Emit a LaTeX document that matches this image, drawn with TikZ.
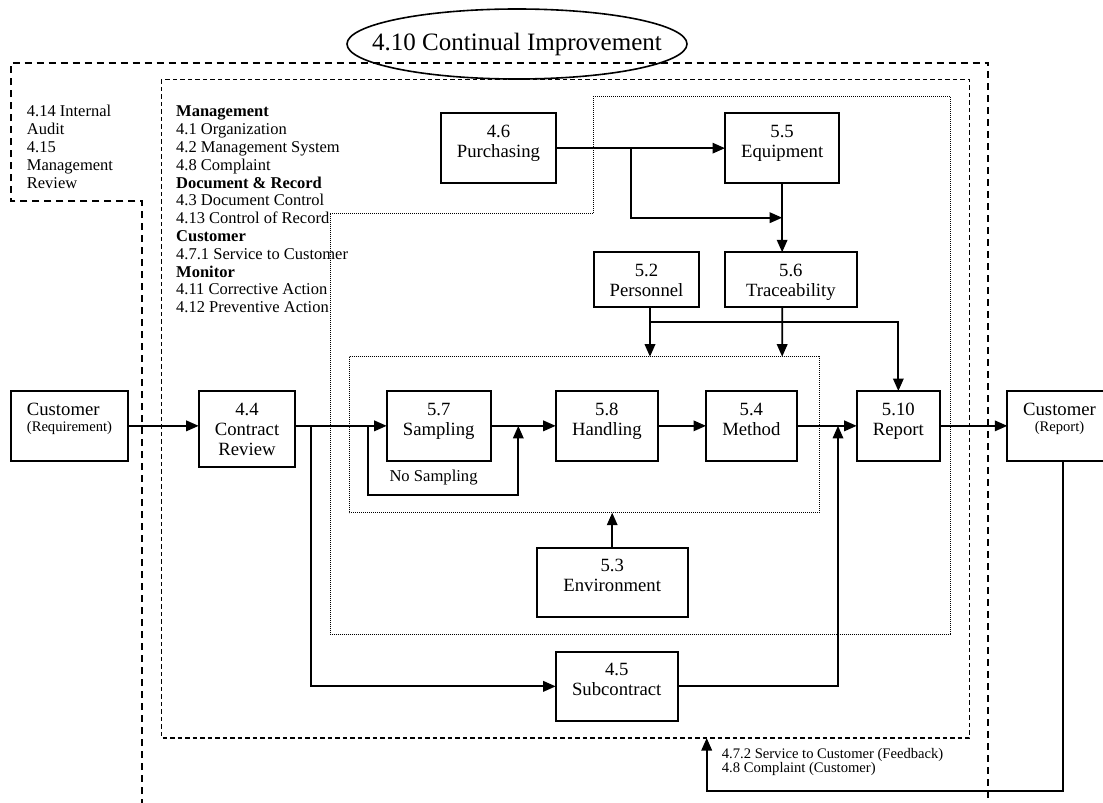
\documentclass[tikz,border=0pt]{standalone}
\usepackage{fontspec}
\setmainfont{Liberation Serif}
\usetikzlibrary{arrows.meta,shapes.geometric}

% process box: name, x1, y1, x2, y2, two-line caption set near the top
\newcommand{\procbox}[6]{%
  \node[pbox, minimum width={#4-#2}, minimum height={#5-#3}, anchor=north west] (#1) at (#2,#3) {};
  \path (#1.north) ++(0,11) node[ptext, anchor=north] (#1-t) {\rule{0pt}{13pt}#6};
}

\begin{document}
\begin{tikzpicture}[x=1pt,y=-1pt,
  pbox/.style={draw, line width=1.7pt, inner sep=0pt, outer sep=0pt, rectangle},
  ptext/.style={font=\fontsize{18.7}{20}\selectfont, align=center, inner sep=0pt},
  listtext/.style={font=\fontsize{16.5}{17.8}\selectfont, align=left, inner sep=0pt},
  smalltext/.style={font=\fontsize{14.6}{14.4}\selectfont, align=left, inner sep=0pt},
  conn/.style={line width=1.8pt, -{Triangle[length=12.5pt,width=10.5pt]}},
  outerdash/.style={line width=1.6pt, dash pattern=on 7pt off 5pt},
  innerdash/.style={line width=1.1pt, dash pattern=on 4.5pt off 3pt},
  dotline/.style={line width=0.9pt, dash pattern=on 0.9pt off 1.1pt}]

\fill[white] (0,0) rectangle (1103,803);
\useasboundingbox (0,0) rectangle (1103,803);

% ---- nested system boundaries ----
\draw[outerdash] (142,806) -- (142,200.7) -- (11,200.7) -- (11,62.7) -- (988,62.7) -- (988,806);
\draw[innerdash] (161.3,79.3) rectangle (969.3,738);
\draw[dotline] (330,213.3) -- (593.3,213.3) -- (593.3,96.7) -- (950.7,96.7) -- (950.7,634) -- (330,634) -- cycle;
\draw[dotline] (349.3,356.7) rectangle (819.3,512.7);

% ---- title ----
\node[draw, ellipse, line width=1.6pt, minimum width=340, minimum height=70, inner sep=0pt] (title) at (517,44) {};
\node[font=\fontsize{25}{28}\selectfont, inner sep=0pt] (title-t) at (title.center) {4.10 Continual Improvement};

% ---- side lists ----
\node[listtext, anchor=north west] (audit) at (26.7,104.7)
  {\rule{0pt}{12pt}4.14 Internal\\Audit\\4.15\\Management\\Review};
\node[listtext, anchor=north west] (mgmt) at (176,104.7)
  {\rule{0pt}{12pt}\textbf{Management}\\4.1 Organization\\4.2 Management System\\4.8 Complaint\\
   \textbf{Document \& Record}\\4.3 Document Control\\4.13 Control of Record\\
   \textbf{Customer}\\4.7.1 Service to Customer\\\textbf{Monitor}\\4.11 Corrective Action\\4.12 Preventive Action};

% ---- process boxes ----
\procbox{pur}{440.7}{113.3}{556.3}{183}{4.6\\Purchasing}
\procbox{eq}{725}{113.3}{839.3}{183}{5.5\\Equipment}
\procbox{per}{593.7}{252.3}{699.3}{307.3}{5.2\\Personnel}
\procbox{tr}{725}{252.3}{856.7}{307.3}{5.6\\Traceability}
\procbox{cr}{198.7}{391}{295.3}{466.7}{4.4\\Contract\\Review}
\procbox{s57}{386.7}{391}{490.7}{460.7}{5.7\\Sampling}
\procbox{s58}{555.7}{391}{658}{460.7}{5.8\\Handling}
\procbox{s54}{706}{391}{796.7}{460.7}{5.4\\Method}
\procbox{rep}{856.7}{391}{940}{460.7}{5.10\\Report}
\procbox{env}{536.7}{547.7}{687.7}{616.7}{5.3\\Environment}
\procbox{sub}{555.7}{651.7}{677.7}{721}{4.5\\Subcontract}

% customer boxes
\node[pbox, minimum width=117.3, minimum height=69.7, anchor=north west] (creq) at (10.7,391) {};
\node[font=\fontsize{18.7}{20}\selectfont, inner sep=0pt, anchor=base west] (creq-t1) at (26.7,415) {Customer};
\node[font=\fontsize{14.6}{16}\selectfont, inner sep=0pt, anchor=base west] (creq-t2) at (26.7,431.7) {(Requirement)};

\node[pbox, minimum width=104.4, minimum height=69.7, anchor=north west] (cusr) at (1007.3,391) {};
\node[font=\fontsize{18.7}{20}\selectfont, inner sep=0pt, anchor=base] (cusr-t1) at (1059.5,415) {Customer};
\node[font=\fontsize{14.6}{16}\selectfont, inner sep=0pt, anchor=base] (cusr-t2) at (1059.5,431.7) {(Report)};

% free labels
\node[font=\fontsize{16.6}{18}\selectfont, inner sep=0pt, anchor=base west] (nosamp) at (389.3,481.7) {No Sampling};
\node[smalltext, anchor=north west] (fbtext) at (721.7,747.8)
  {\rule{0pt}{10.5pt}4.7.2 Service to Customer (Feedback)\\4.8 Complaint (Customer)};

% ---- junction points ----
\coordinate (j1) at (311,425.85);
\coordinate (j2) at (367.7,425.85);
\coordinate (j3) at (518.3,425.85);
\coordinate (j4) at (838,425.85);
\coordinate (j5) at (630.7,148.15);
\coordinate (j6) at (782.2,217.7);
\coordinate (p1) at (650,307.3);
\coordinate (p2) at (650,356.7);
\coordinate (j7) at (650,321.7);
\coordinate (t2) at (782.2,356.7);
\coordinate (envtop) at (612.2,512.7);
\coordinate (fbs) at (1063.3,460.7);
\coordinate (fbe) at (706.7,738);

% ---- connectors ----
\draw[conn] (creq.east) -- (creq.east -| cr.west);
\draw[conn] (cr.east |- s57.west) -- (s57.west);
\draw[conn] (j1) |- (sub.west);
\draw[conn] (j2) -- ++(0,69.15) -| (j3);
\draw[conn] (s57.east) -- (s58.west);
\draw[conn] (s58.east) -- (s54.west);
\draw[conn] (s54.east) -- (rep.west);
\draw[conn] (sub.east) -| (j4);
\draw[conn] (rep.east) -- (cusr.west);
\draw[conn] (fbs) -- ++(0,330) -| (fbe);
\draw[conn] (env.north) -- (envtop);
\draw[conn] (pur.east) -- (eq.west);
\draw[conn] (j5) |- (j6);
\draw[conn] (eq.south) -- (eq.south |- tr.north);
\draw[conn] (p1) -- (p2);
\draw[conn] (j7) -| (rep.north);
\draw[conn] (eq.south |- tr.south) -- (t2);

\end{tikzpicture}
\end{document}
